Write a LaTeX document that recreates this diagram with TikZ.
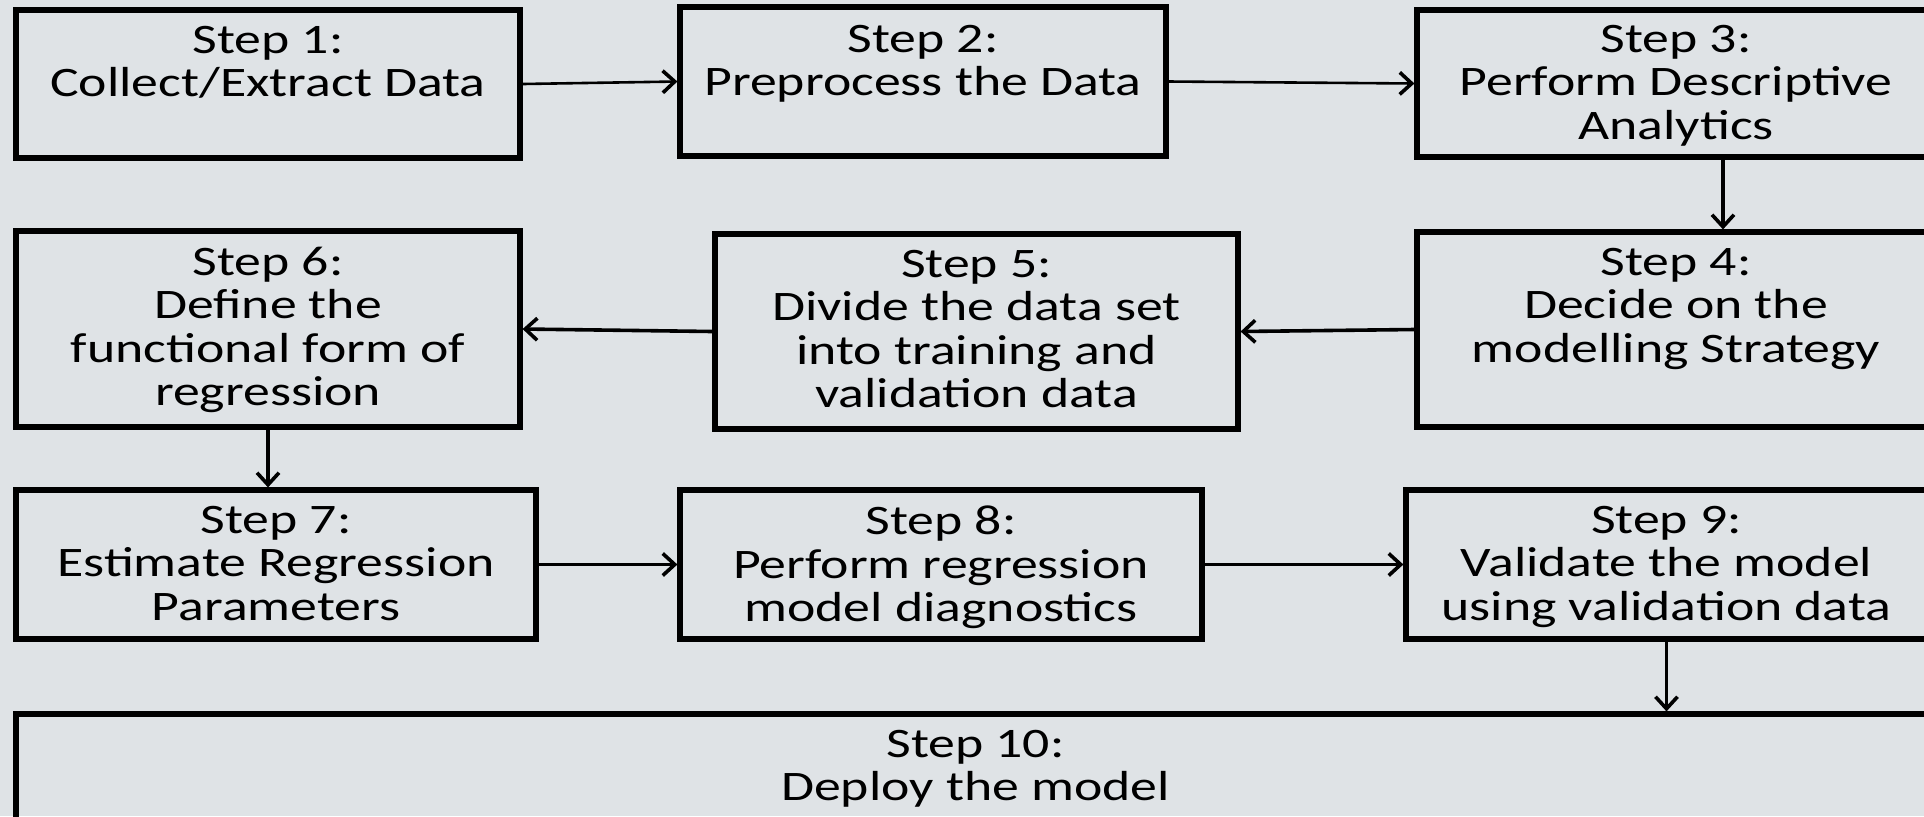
\documentclass[tikz,border=0pt]{standalone}
\usepackage{fontspec}
\setmainfont[FakeStretch=1.28]{Carlito}
\usetikzlibrary{arrows.meta}
\definecolor{bggray}{RGB}{223,227,230}

\begin{document}
\begin{tikzpicture}[x=0.5pt,y=-0.5pt,
    stepbox/.style={draw,line width=2.6pt,inner sep=0pt},
    steptext/.style={anchor=north,align=center,inner sep=0pt,
      font=\fontsize{21}{21.8}\selectfont},
    flow/.style={-{Straight Barb[length=6pt,width=11pt,line width=1.8pt]},line width=1.8pt},
    thinflow/.style={flow,line width=1.3pt}]
    \fill[bggray] (0,0) rectangle (1924,816);
    \useasboundingbox (0,0) rectangle (1924,816);
    % boxes
    \node[stepbox,minimum width=252pt,minimum height=74pt] (S1) at (268,84) {};
    \node[stepbox,minimum width=243pt,minimum height=74.5pt] (S2) at (923,81.5) {};
    \node[stepbox,minimum width=259pt,minimum height=73.5pt] (S3) at (1676,83.5) {};
    \node[stepbox,minimum width=259pt,minimum height=97.5pt] (S4) at (1676,329.5) {};
    \node[stepbox,minimum width=261.5pt,minimum height=97.5pt] (S5) at (976.5,331.5) {};
    \node[stepbox,minimum width=252pt,minimum height=98pt] (S6) at (268,329) {};
    \node[stepbox,minimum width=260pt,minimum height=74.5pt] (S7) at (276,564.5) {};
    \node[stepbox,minimum width=261pt,minimum height=74.5pt] (S8) at (941,564.5) {};
    \node[stepbox,minimum width=260.5pt,minimum height=74.5pt] (S9) at (1666.5,564.5) {};
    \node[stepbox,minimum width=959.5pt,minimum height=90pt] (S10) at (975.5,804) {};
    % texts
    \node[steptext] (T1) at ([yshift=-9pt]S1.north) {Step 1:\\Collect/Extract Data};
    \node[steptext] (T2) at ([yshift=-10pt]S2.north) {Step 2:\\Preprocess the Data};
    \node[steptext] (T3) at ([yshift=-8.5pt]S3.north) {Step 3:\\Perform Descriptive\\Analytics};
    \node[steptext] (T4) at ([yshift=-9pt]S4.north) {Step 4:\\Decide on the\\modelling Strategy};
    \node[steptext] (T5) at ([yshift=-9pt]S5.north) {Step 5:\\Divide the data set\\into training and\\validation data};
    \node[steptext] (T6) at ([yshift=-9pt]S6.north) {Step 6:\\Define the\\functional form of\\regression};
    \node[steptext] (T7) at ([yshift=-9pt]S7.north) {Step 7:\\Estimate Regression\\Parameters};
    \node[steptext] (T8) at ([yshift=-9pt]S8.north) {Step 8:\\Perform regression\\model diagnostics};
    \node[steptext] (T9) at ([yshift=-9pt]S9.north) {Step 9:\\Validate the model\\using validation data};
    \node[steptext] (T10) at ([yshift=-9pt]S10.north) {Step 10:\\Deploy the model};
    % connectors
    \draw[thinflow] (S1.east) to (S2.west);
    \draw[thinflow] (S2.east) to (S3.west);
    \draw[flow] ([xshift=23.5pt]S3.south) to ([xshift=23.5pt]S4.north);
    \draw[flow] (S4.west) to (S5.east);
    \draw[flow] (S5.west) to (S6.east);
    \draw[flow] (S6.south) to (S6.south |- S7.north);
    \draw[flow] (S7.east) to (S8.west);
    \draw[flow] (S8.east) to (S9.west);
    \draw[flow] (S9.south) to (S9.south |- S10.north);
  \end{tikzpicture}
\end{document}
